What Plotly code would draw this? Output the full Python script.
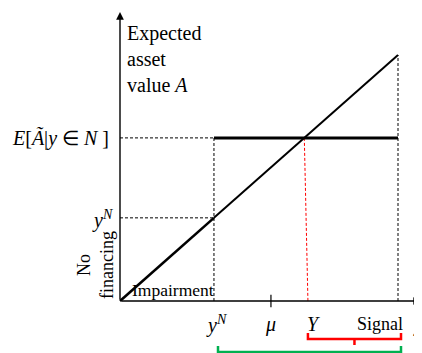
import plotly.graph_objects as go

# ---- data (model units) ----
signal_max = 10.0          # right end of signal range
yN = 3.38                  # financing threshold y^N
E_level = 6.63             # E[A | y in N]
mu = 5.43                  # prior mean
Y_cross = 6.63             # crossing of 45-degree line with E level
Y_axis_pt = 6.76           # where the red dashed line meets the axis

diag_x = [0, yN, signal_max]
diag_A = [0, yN, signal_max]
flat_x = [yN, signal_max]
flat_A = [E_level, E_level]

# pixel scale helpers (layout only); page body has an 8px margin
PX_X = 27.8
PX_Y = 24.6
W, H = 414, 345
OX, OY = 112, 293           # origin in figure pixels
xr = [-OX / PX_X, (W - OX) / PX_X]
yr = [-(H - OY) / PX_Y, OY / PX_Y]

def sx(px):  # screen px -> data x
    return (px - 8 - OX) / PX_X

def sy(py):  # screen py -> data y
    return (OY - (py - 8)) / PX_Y

FONT = "Liberation Serif, Times New Roman, serif"
fig = go.Figure()

def line(x, y, color="black", width=1, dash="solid"):
    fig.add_trace(go.Scatter(x=x, y=y, mode="lines", cliponaxis=False,
                             line=dict(color=color, width=width, dash=dash),
                             hoverinfo="skip", showlegend=False))

# dashed guides
line([yN, yN], [0, E_level], width=1, dash="3px,2px")
line([0, yN], [E_level, E_level], width=1, dash="3px,2px")
line([0, yN], [yN, yN], width=1, dash="3px,2px")
line([signal_max, signal_max], [0, signal_max], width=1, dash="3px,2px")
line([Y_cross, Y_axis_pt], [E_level, 0], color="red", width=1, dash="3px,2px")

# main lines
line(diag_x[:2], diag_A[:2], width=2.6)
line(diag_x[1:], diag_A[1:], width=2)
line(flat_x, flat_A, width=3)

# mu tick
line([mu, mu], [-0.25, 0.25], width=1.2)

# brackets
rb0, rb1 = Y_axis_pt, sx(401)
line([rb0, rb0, rb1, rb1], [sy(333), sy(339), sy(339), sy(333)], color="red", width=2.5)
line([(rb0 + rb1) / 2] * 2, [sy(339), sy(345)], color="red", width=2.5)
gb0, gb1 = sx(218), sx(401)
line([gb0, gb0, gb1, gb1], [sy(346), sy(352), sy(352), sy(346)], color="rgb(0,176,80)", width=2.5)

annotations = []
# axes with arrows
annotations.append(dict(x=0, y=sy(12), ax=0, ay=0, xref="x", yref="y", axref="x", ayref="y",
                        text="", showarrow=True, arrowhead=2, arrowsize=1.1, arrowwidth=1.4,
                        arrowcolor="black"))
annotations.append(dict(x=sx(421), y=0, ax=0, ay=0, xref="x", yref="y", axref="x", ayref="y",
                        text="", showarrow=True, arrowhead=2, arrowsize=1.1, arrowwidth=1.4,
                        arrowcolor="black"))

def txt(x, y, s, size=18, xanchor="center", yanchor="middle", align="center", angle=0):
    annotations.append(dict(x=x, y=y, xref="x", yref="y", text=s, showarrow=False,
                            xanchor=xanchor, yanchor=yanchor, align=align, textangle=angle,
                            font=dict(family=FONT, size=size, color="black")))

txt(sx(125), sy(20), "Expected<br>asset<br>value <i>A</i>", size=20, xanchor="left",
    yanchor="top", align="left")
txt(sx(111), E_level, "<i>E</i>[<i>Ã</i>|<i>y</i> ∈ <i>N</i> ]", size=20, xanchor="right")
txt(sx(102), sy(219), "<i>y</i><sup><i>N</i></sup>", size=20)
txt(sx(95), sy(265), "No<br>financing", size=18, angle=-90)
txt(sx(173), sy(290), "Impairment", size=17.5)

yl = sy(324)
txt(sx(216), yl, "<i>y</i><sup><i>N</i></sup>", size=20)
txt(mu, yl, "<i>μ</i>", size=20)
txt(sx(313), yl, "<i>Y</i>", size=20)
txt(sx(380), yl, "Signal", size=18)
txt(sx(418), yl, "<i>y</i>", size=20)

fig.update_layout(
    width=W, height=H,
    margin=dict(l=0, r=0, t=0, b=0),
    paper_bgcolor="white", plot_bgcolor="white",
    xaxis=dict(range=xr, visible=False, fixedrange=True),
    yaxis=dict(range=yr, visible=False, fixedrange=True),
    annotations=annotations,
    showlegend=False,
)
fig.write_html("out.html")
